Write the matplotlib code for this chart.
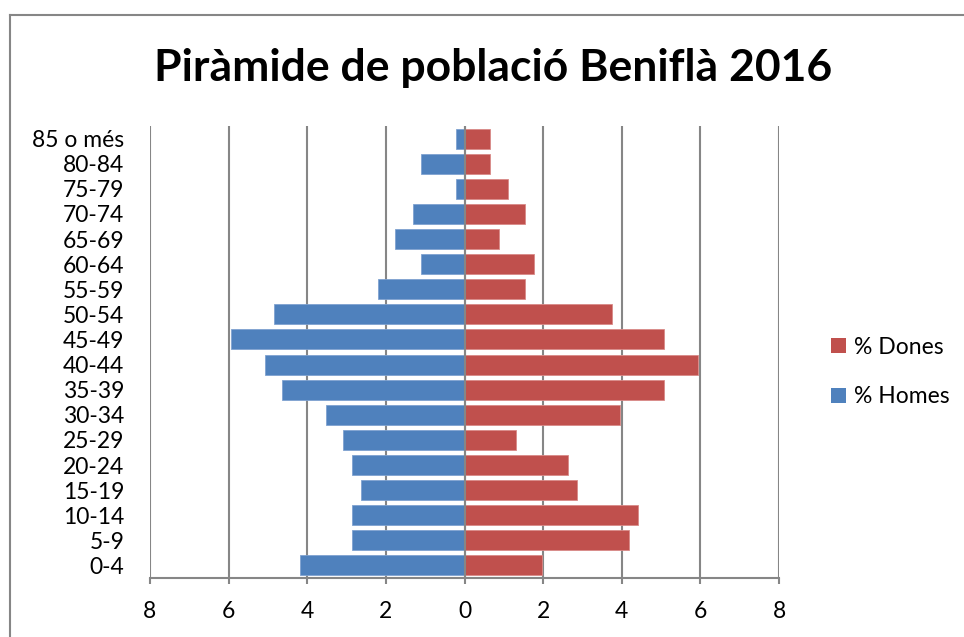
from matplotlib import pyplot as plt
from matplotlib.lines import Line2D
from matplotlib.patches import Patch
import numpy as np

plt.rcParams['font.family'] = ['Lato', 'DejaVu Sans']

ages = ['0-4', '5-9', '10-14', '15-19', '20-24', '25-29', '30-34', '35-39',
        '40-44', '45-49', '50-54', '55-59', '60-64', '65-69', '70-74',
        '75-79', '80-84', '85 o més']
homes = [4.19, 2.86, 2.86, 2.64, 2.86, 3.08, 3.52, 4.63,
         5.07, 5.95, 4.85, 2.20, 1.10, 1.76, 1.32,
         0.22, 1.10, 0.22]
dones = [1.98, 4.19, 4.41, 2.86, 2.64, 1.32, 3.96, 5.07,
         5.95, 5.07, 3.74, 1.54, 1.76, 0.88, 1.54,
         1.10, 0.66, 0.66]
ticks = [-8, -6, -4, -2, 0, 2, 4, 6, 8]

blue = '#4F81BD'
red = '#C0504D'
grid = '#868686'

fig = plt.figure(figsize=(9.64, 6.37), dpi=100)
ax = fig.add_axes([150/964, 1-578/637, 629/964, 452/637])

y = np.arange(len(ages))
ax.barh(y, [-v for v in homes], height=0.8, color=blue, edgecolor='#7FA2D0', linewidth=0.6, zorder=3)
ax.barh(y, dones, height=0.8, color=red, edgecolor='#D98A88', linewidth=0.6, zorder=3)

ax.set_xlim(-8, 8)
ax.set_ylim(-0.5, len(ages)-0.5)
ax.set_xticks(ticks)
ax.set_xticklabels([str(abs(t)) for t in ticks], fontsize=16.5)
ax.set_yticks(y)
ax.set_yticklabels(ages, fontsize=16.5)
ax.tick_params(axis='y', length=0, pad=18.5)
ax.tick_params(axis='x', length=4.5, width=1.5, color=grid, pad=12)
for t in ticks:
    ax.axvline(t, color=grid, lw=1.5, zorder=1)
ax.axvline(0, color=grid, lw=1.5, zorder=4)
for s in ['left', 'right', 'top']:
    ax.spines[s].set_visible(False)
ax.spines['bottom'].set_color(grid)
ax.spines['bottom'].set_linewidth(1.5)
ax.spines['bottom'].set_zorder(5)

fig.text(493/964, 1-68/637, 'Piràmide de població Beniflà 2016', fontsize=32,
         fontweight='bold', ha='center', va='center')

handles = [Patch(facecolor=red, label='% Dones'), Patch(facecolor=blue, label='% Homes')]
fig.legend(handles=handles, loc='center left', bbox_to_anchor=(810/964, 1-372/637),
           frameon=False, fontsize=16.5, handlelength=0.65, handleheight=0.65,
           handletextpad=0.35, labelspacing=1.25)

# outer chart frame (only left and top edges fall inside the image)
fig.add_artist(Line2D([10/964, 10/964], [0, 1-15/637], transform=fig.transFigure, color=grid, lw=1.5))
fig.add_artist(Line2D([10/964, 1], [1-15/637, 1-15/637], transform=fig.transFigure, color=grid, lw=1.5))

plt.savefig('out.png', dpi=100)
plt.close()
